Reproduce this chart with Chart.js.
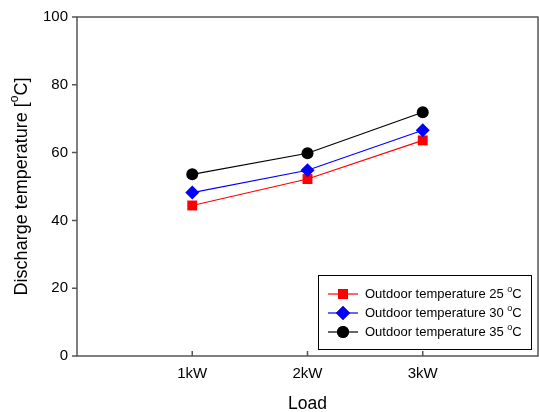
<!DOCTYPE html>
<html>
<head>
<meta charset="utf-8">
<script src="https://cdn.jsdelivr.net/npm/chart.js@4"></script>
<style>
  html, body { margin: 0; padding: 0; background: #fff; }
  #wrap { width: 539px; height: 412px; }
</style>
</head>
<body>
<div id="wrap"><canvas id="chart" width="539" height="412"></canvas></div>
<script>
// Data
const loadLabels = ["1kW", "2kW", "3kW"];
const loadPos = [1, 2, 3];
const temp25 = [44.4, 52.2, 63.6];
const temp30 = [48.2, 54.8, 66.6];
const temp35 = [53.6, 59.8, 71.9];
const yTicks = [0, 20, 40, 60, 80, 100];
const seriesNames = ["Outdoor temperature 25 ", "Outdoor temperature 30 ", "Outdoor temperature 35 "];

const FONT = "Liberation Sans, Arial, sans-serif";
const AXIS_COLOR = "#555";

function pts(vals) {
  return vals.map((v, i) => ({ x: loadPos[i], y: v }));
}

// draws text with a raised small "o" before the C
function drawDegText(ctx, pre, post, x, y, size) {
  ctx.font = size + "px " + FONT;
  ctx.fillText(pre, x, y);
  x += ctx.measureText(pre).width;
  ctx.font = Math.round(size * 0.68) + "px " + FONT;
  ctx.fillText("o", x, y - size * 0.38);
  x += ctx.measureText("o").width;
  ctx.font = size + "px " + FONT;
  ctx.fillText(post, x, y);
  return x + ctx.measureText(post).width;
}

function degTextWidth(ctx, pre, post, size) {
  ctx.font = size + "px " + FONT;
  let w = ctx.measureText(pre).width + ctx.measureText(post).width;
  ctx.font = Math.round(size * 0.68) + "px " + FONT;
  return w + ctx.measureText("o").width;
}

// Frame, tick marks, y title and legend box
const decorPlugin = {
  id: "decor",
  afterDraw(chart) {
    const ctx = chart.ctx;
    const a = chart.chartArea;
    const xs = chart.scales.x, ys = chart.scales.y;
    ctx.save();
    ctx.strokeStyle = AXIS_COLOR;
    ctx.lineWidth = 1.5;
    ctx.strokeRect(a.left, a.top, a.right - a.left, a.bottom - a.top);

    ctx.beginPath();
    yTicks.forEach(v => {
      const py = ys.getPixelForValue(v);
      ctx.moveTo(a.left - 5, py);
      ctx.lineTo(a.left, py);
    });
    loadPos.forEach(v => {
      const px = xs.getPixelForValue(v);
      ctx.moveTo(px, a.bottom);
      ctx.lineTo(px, a.bottom - 5);
    });
    ctx.stroke();

    // y axis title
    ctx.fillStyle = "#000";
    ctx.textBaseline = "middle";
    const tsize = 18;
    const tw = degTextWidth(ctx, "Discharge temperature [", "C]", tsize);
    ctx.translate(22, (a.top + a.bottom) / 2);
    ctx.rotate(-Math.PI / 2);
    drawDegText(ctx, "Discharge temperature [", "C]", -tw / 2, 0, tsize);
    ctx.restore();

    // legend
    ctx.save();
    const bx = 318.5, by = 275.5, bw = 213, bh = 74;
    ctx.strokeStyle = "#000";
    ctx.lineWidth = 1;
    ctx.strokeRect(bx, by, bw, bh);
    chart.data.datasets.forEach((ds, i) => {
      const cy = 294 + i * 19;
      ctx.strokeStyle = ds.borderColor;
      ctx.lineWidth = 1.2;
      ctx.beginPath();
      ctx.moveTo(328, cy);
      ctx.lineTo(358, cy);
      ctx.stroke();
      Chart.helpers.drawPoint(ctx, {
        pointStyle: ds.pointStyle, radius: ds.pointRadius, borderWidth: 0, rotation: 0
      }, 343, cy);
      ctx.fillStyle = ds.pointBackgroundColor;
      ctx.fill();
      ctx.fillStyle = "#000";
      ctx.textBaseline = "middle";
      drawDegText(ctx, seriesNames[i], "C", 365, cy + 0.5, 13);
    });
    ctx.restore();
  }
};

const commonDs = { borderWidth: 1.2, tension: 0, pointBorderWidth: 0, fill: false };

function noPad(s) {
  s.paddingLeft = 0; s.paddingRight = 0; s.paddingTop = 0; s.paddingBottom = 0;
}

new Chart(document.getElementById("chart"), {
  type: "line",
  data: {
    datasets: [
      Object.assign({ label: "25", data: pts(temp25), borderColor: "#ff0000", pointBackgroundColor: "#ff0000", pointBorderColor: "#ff0000", pointStyle: "rect", pointRadius: 7, order: 2 }, commonDs),
      Object.assign({ label: "30", data: pts(temp30), borderColor: "#0000ff", pointBackgroundColor: "#0000ff", pointBorderColor: "#0000ff", pointStyle: "rectRot", pointRadius: 7, order: 1 }, commonDs),
      Object.assign({ label: "35", data: pts(temp35), borderColor: "#000000", pointBackgroundColor: "#000000", pointBorderColor: "#000000", pointStyle: "circle", pointRadius: 6, order: 0 }, commonDs)
    ]
  },
  options: {
    responsive: false,
    animation: false,
    layout: { autoPadding: false, padding: { top: 17, right: 1, left: 0, bottom: 0 } },
    plugins: { legend: { display: false }, tooltip: { enabled: false } },
    scales: {
      x: {
        type: "linear", min: 0, max: 4,
        afterBuildTicks(s) { s.ticks = loadPos.map(v => ({ value: v })); },
        afterFit(s) { s.height = 56; noPad(s); },
        grid: { display: false, drawTicks: false },
        border: { display: false },
        ticks: {
          padding: 9, color: "#000", font: { family: FONT, size: 15 },
          callback: v => loadLabels[loadPos.indexOf(v)] || ""
        },
        title: { display: true, text: "Load", color: "#000", font: { family: FONT, size: 17.5, lineHeight: 0.85 }, padding: 0 }
      },
      y: {
        min: 0, max: 100,
        afterBuildTicks(s) { s.ticks = yTicks.map(v => ({ value: v })); },
        afterFit(s) { s.width = 77; noPad(s); },
        grid: { display: false, drawTicks: false },
        border: { display: false },
        ticks: { padding: 9, color: "#000", font: { family: FONT, size: 15 } }
      }
    }
  },
  plugins: [decorPlugin]
});
</script>
</body>
</html>
